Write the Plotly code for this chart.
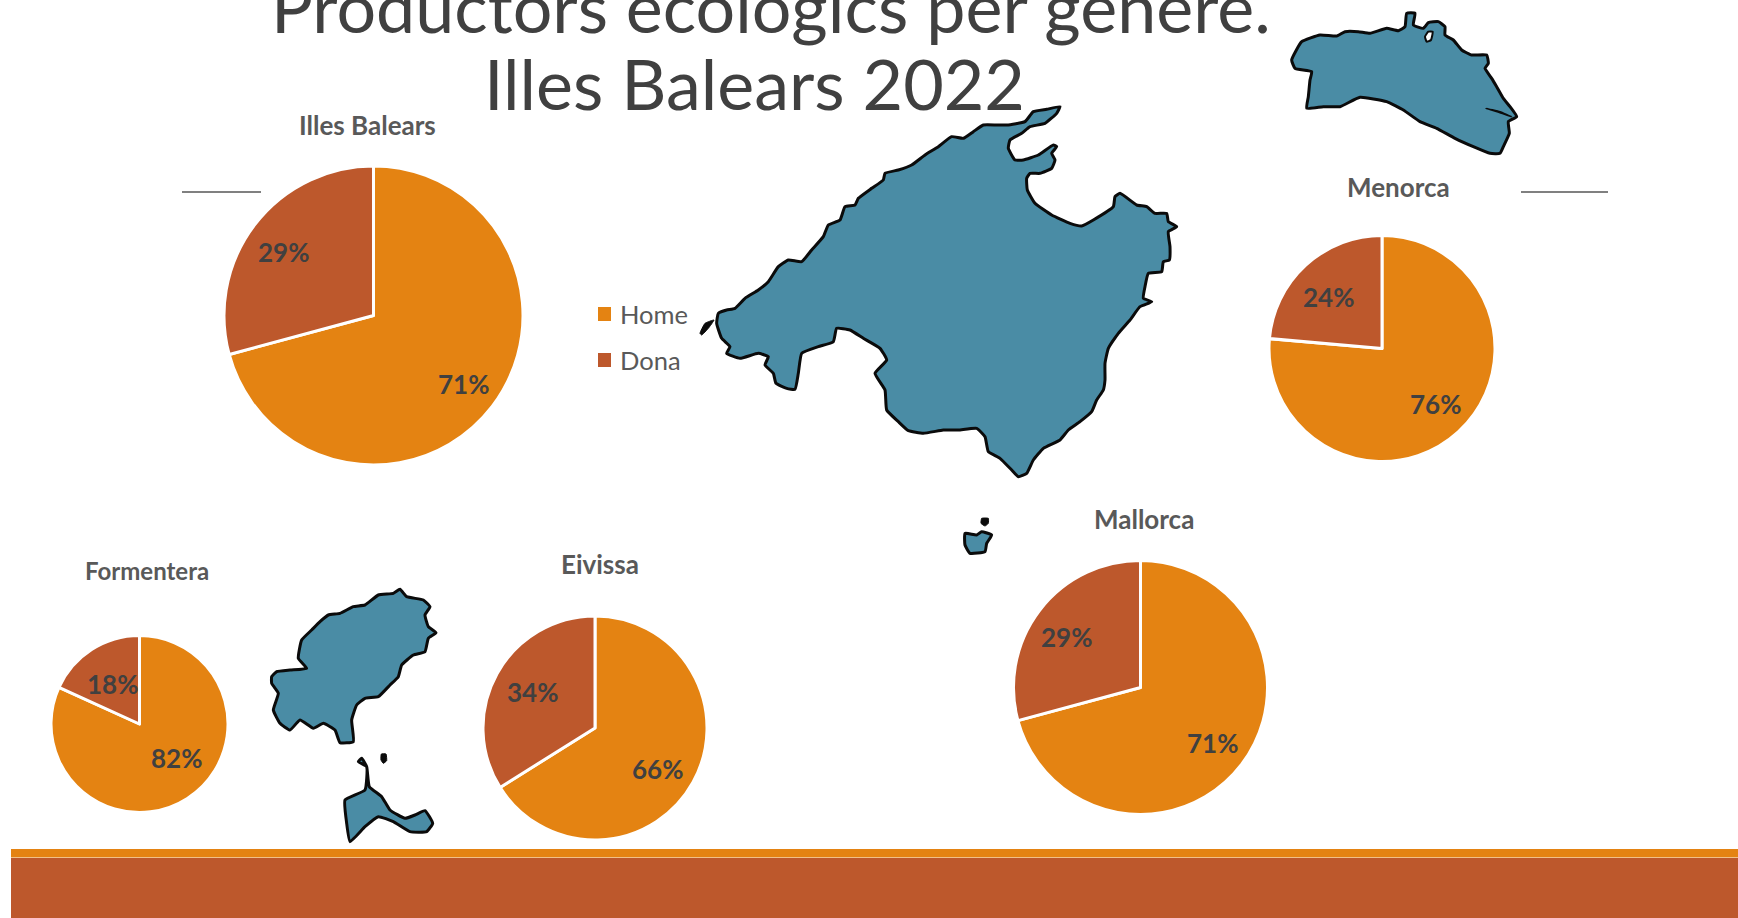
import math
import plotly.graph_objects as go

W, H = 1738, 918

# ---- data ----
regions = ["Illes Balears", "Menorca", "Mallorca", "Eivissa", "Formentera"]
categories = ["Home", "Dona"]
home_pct = [70.8, 76.4, 70.8, 66.1, 81.8]
dona_pct = [29.2, 23.6, 29.2, 33.9, 18.2]
title_lines = ["Productors ecològics per gènere.", "Illes Balears 2022"]

# ---- style / layout ----
ORANGE, BRICK, TEAL, DARK, GREY = "#E48312", "#BD582C", "#4A8CA5", "#404040", "#595959"
FONT = "Lato"
pie_boxes = {  # centre x, centre y, radius
    "Illes Balears": (373.5, 315.5, 149.5),
    "Menorca": (1382, 348.5, 113),
    "Mallorca": (1140.5, 687.5, 127),
    "Eivissa": (595, 728, 112),
    "Formentera": (139.5, 724, 88.5),
}
title_pos = {
    "Illes Balears": (367, 125, 26),
    "Menorca": (1398, 187, 26),
    "Mallorca": (1144, 519, 26),
    "Eivissa": (600, 564, 26),
    "Formentera": (147, 570, 24),
}
label_nudge = {  # fine placement of the (home, dona) labels, pixels
    "Illes Balears": ((1, 1), (-1, 4)),
    "Menorca": ((3, 0), (-3, 4)),
    "Mallorca": ((1, 1), (-3, 4)),
    "Eivissa": ((-2, 5), (2, 0)),
    "Formentera": ((10, -8), (0, 2)),
}

# outlines of the decorative island map, traced in zoom-crop coordinates (offset + c/3)
mallorca = [(85,670),(110,660),(135,655),(165,625),(205,600),(235,575),(265,530),(295,510),(335,515),(365,480),(400,440),(415,405),(450,390),(465,350),(495,345),(505,325),(545,295),(580,270),(585,250),(625,240),(665,225),(705,195),(745,170),(785,140),(820,145),(850,125),(880,105),(920,105),(950,105),(1005,95),(1030,65),(1070,58),(1110,50),(1100,70),(1065,100),(1020,110),(995,130),(960,150),(955,175),(975,210),(1000,210),(1045,195),(1090,165),(1100,170),(1085,190),(1095,210),(1085,235),(1050,250),(1020,250),(1010,265),(1012,300),(1035,340),(1085,375),(1140,400),(1175,408),(1210,390),(1270,350),(1275,320),(1290,310),(1340,345),(1370,350),(1395,370),(1430,370),(1435,395),(1460,410),(1435,425),(1440,470),(1438,510),(1420,515),(1415,545),(1375,550),(1365,590),(1360,625),(1385,635),(1350,650),(1320,690),(1285,730),(1255,775),(1245,820),(1245,870),(1240,900),(1220,930),(1205,965),(1170,995),(1135,1020),(1110,1050),(1060,1075),(1030,1110),(1010,1150),(985,1160),(965,1140),(930,1105),(895,1085),(885,1040),(860,1015),(805,1020),(760,1020),(700,1030),(655,1022),(625,995),(590,960),(585,900),(555,850),(590,810),(570,775),(520,745),(480,720),(440,715),(430,755),(385,770),(335,790),(325,850),(315,898),(290,895),(258,880),(250,850),(225,825),(235,800),(205,790),(150,805),(110,790),(120,770),(95,745),(80,700)]
dragonera = [(30,730),(45,700),(72,690),(55,715),(35,735)]
cabrera = [(825,1330),(860,1335),(875,1325),(905,1335),(890,1360),(885,1385),(840,1390),(825,1365)]
cabrera_dot = [(875,1285),(895,1285),(895,1300),(885,1308),(873,1300)]
menorca = [(65,180),(95,125),(150,105),(200,108),(225,95),(265,95),(300,100),(350,85),(385,92),(405,80),(410,40),(435,40),(430,75),(460,85),(475,68),(505,65),(525,80),(525,105),(550,120),(575,150),(605,165),(650,165),(655,190),(645,205),(665,235),(680,260),(700,295),(720,320),(740,350),(715,365),(718,400),(700,440),(690,460),(660,460),(610,440),(555,415),(500,385),(450,365),(400,330),(350,305),(270,292),(210,320),(160,320),(110,325),(115,290),(120,240),(125,215),(75,205)]
menorca_hole = [(475,95),(488,95),(483,120),(470,125),(465,110)]
menorca_inlet = [(648,325),(690,335),(725,350),(690,338)]
eivissa = [(65,320),(80,305),(120,300),(170,295),(145,265),(155,210),(185,180),(210,155),(235,135),(270,130),(310,110),(345,105),(385,75),(430,70),(450,58),(470,80),(520,90),(540,110),(525,135),(535,170),(558,188),(535,205),(525,245),(490,255),(455,285),(445,320),(420,345),(385,380),(345,385),(320,405),(305,450),(310,515),(270,518),(255,480),(220,460),(190,475),(150,450),(120,480),(90,460),(70,420),(85,370),(65,340)]
formentera = [(285,690),(345,660),(350,590),(325,575),(335,565),(350,590),(358,650),(395,680),(420,720),(465,745),(495,735),(525,722),(548,760),(530,785),(480,785),(430,755),(385,740),(345,770),(300,815),(290,760)]
espalmador = [(394,552),(408,552),(410,572),(400,580),(393,570)]

fig = go.Figure()

def island(pts, ox, oy, fill=TEAL, lw=3, line="#0b0b0b"):
    xs = [ox + p[0] / 3 for p in pts] + [ox + pts[0][0] / 3]
    ys = [oy + p[1] / 3 for p in pts] + [oy + pts[0][1] / 3]
    fig.add_trace(go.Scatter(x=xs, y=ys, mode="lines", fill="toself", fillcolor=fill,
                             line=dict(color=line, width=lw, shape="spline", smoothing=0.4),
                             hoverinfo="skip", showlegend=False, xaxis="x", yaxis="y"))

island(mallorca, 690, 90)
island(dragonera, 690, 90, fill="#0b0b0b", lw=1)
island(cabrera, 690, 90)
island(cabrera_dot, 690, 90, fill="#0b0b0b", lw=1)
island(menorca, 1270, 0)
island(menorca_hole, 1270, 0, fill="#ffffff", lw=2)
island(menorca_inlet, 1270, 0, fill="#0b0b0b", lw=1.5)
island(eivissa, 250, 570)
island(formentera, 250, 570)
island(espalmador, 250, 570, fill="#0b0b0b", lw=1)

annotations = []

def add_text(x, y, text, size, color, bold=False):
    annotations.append(dict(x=x, y=y, xref="x", yref="y", text=f"<b>{text}</b>" if bold else text,
                            showarrow=False, xanchor="center", yanchor="middle",
                            font=dict(family=FONT, size=size, color=color)))

for name, h, d in zip(regions, home_pct, dona_pct):
    cx, cy, r = pie_boxes[name]
    fig.add_trace(go.Pie(
        labels=categories, values=[h, d], name=name, sort=False, direction="clockwise",
        rotation=0, textinfo="none", showlegend=False,
        marker=dict(colors=[ORANGE, BRICK], line=dict(color="#ffffff", width=3)),
        domain=dict(x=[(cx - r) / W, (cx + r) / W], y=[1 - (cy + r) / H, 1 - (cy - r) / H]),
    ))
    tx, ty, ts = title_pos[name]
    add_text(tx, ty, name, ts, GREY, bold=True)
    # percentage labels sit in the middle of each slice, a fixed distance inside the rim
    total = h + d
    start = 0.0
    for v, (nx, ny) in zip((h, d), label_nudge[name]):
        mid = (start + v / 2) / total * 2 * math.pi
        start += v
        add_text(cx + (r - 38) * math.sin(mid) + nx, cy - (r - 38) * math.cos(mid) + ny,
                 f"{round(v)}%", 26, DARK, bold=True)

# slide title, two lines
add_text(771, 6, title_lines[0], 70, DARK)
add_text(754, 83, title_lines[1], 70, DARK)

# legend
shapes = []
for i, (cat, col) in enumerate(zip(categories, [ORANGE, BRICK])):
    y0 = 307 + i * 46
    shapes.append(dict(type="rect", xref="x", yref="y", x0=598, x1=611, y0=y0, y1=y0 + 14,
                       fillcolor=col, line=dict(width=0)))
    annotations.append(dict(x=618, y=y0 + 7, xref="x", yref="y", text=cat, showarrow=False,
                            xanchor="left", yanchor="middle",
                            font=dict(family=FONT, size=25.5, color=GREY)))

# small grey rules and the footer band
for x0, x1 in [(182, 261), (1521, 1608)]:
    shapes.append(dict(type="line", xref="x", yref="y", x0=x0, x1=x1, y0=192, y1=192,
                       line=dict(color="#808080", width=2)))
shapes.append(dict(type="rect", xref="x", yref="y", x0=11, x1=W, y0=849, y1=857.5,
                   fillcolor=ORANGE, line=dict(width=0)))
shapes.append(dict(type="rect", xref="x", yref="y", x0=11, x1=W, y0=858, y1=H,
                   fillcolor=BRICK, line=dict(width=0)))

fig.update_layout(
    width=W, height=H, margin=dict(l=0, r=0, t=0, b=0),
    paper_bgcolor="#ffffff", plot_bgcolor="#ffffff", showlegend=False,
    xaxis=dict(range=[0, W], domain=[0, 1], visible=False, fixedrange=True),
    yaxis=dict(range=[H, 0], domain=[0, 1], visible=False, fixedrange=True),
    annotations=annotations, shapes=shapes,
)
fig.write_html("out.html", config={"displayModeBar": False},
               post_script="document.body.style.margin='0';document.body.style.overflow='hidden';")
